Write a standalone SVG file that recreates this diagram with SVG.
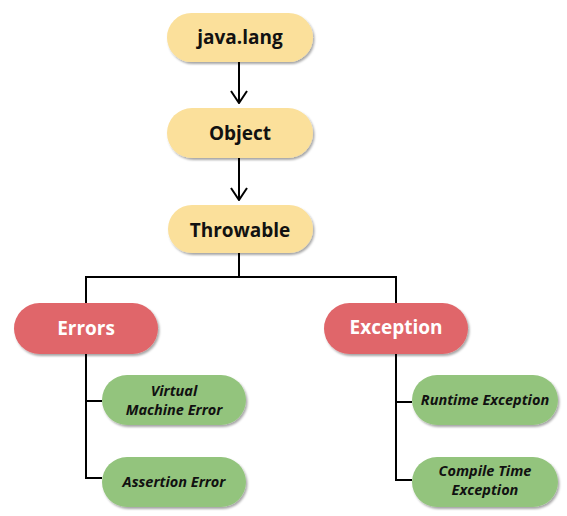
<svg xmlns="http://www.w3.org/2000/svg" width="567" height="516" viewBox="0 0 567 516">
<defs>
<filter id="sh" x="-10%" y="-20%" width="120%" height="150%">
<feDropShadow dx="1.5" dy="2" stdDeviation="1" flood-color="#000" flood-opacity="0.35"/>
</filter>
<marker id="arr" viewBox="0 0 14 18" refX="13" refY="9" markerWidth="14" markerHeight="18" markerUnits="userSpaceOnUse" orient="auto">
<path d="M1,1 L13,9 L1,17" fill="none" stroke="#000" stroke-width="2"/>
</marker>
</defs>
<style>
.y{fill:#fbe09b;filter:url(#sh)}
.r{fill:#e0666a;filter:url(#sh)}
.g{fill:#93c47d;filter:url(#sh)}
.t{font-family:"Open Sans","Noto Sans","Liberation Sans",sans-serif;font-weight:bold;text-anchor:middle}
.ty{font-size:19px;fill:#111}
.tr{font-size:19px;fill:#fff}
.tg{font-size:14.5px;font-style:italic;fill:#111}
.c{fill:none;stroke:#000;stroke-width:2}
</style>
<rect width="567" height="516" fill="#fff"/>
<g id="connectors">
<line class="c" x1="239" y1="62" x2="239" y2="103" marker-end="url(#arr)"/>
<line class="c" x1="239" y1="158" x2="239" y2="200" marker-end="url(#arr)"/>
<polyline class="c" points="239,253 239,277"/>
<polyline class="c" points="86,303 86,277 396,277 396,303"/>
<polyline class="c" points="86,354 86,478 102,478"/>
<line class="c" x1="86" y1="401" x2="102" y2="401"/>
<polyline class="c" points="396,354 396,480 412,480"/>
<line class="c" x1="396" y1="402" x2="412" y2="402"/>
</g>
<g id="java-lang">
<rect class="y" x="167" y="13" width="146" height="49" rx="24.5"/>
<text class="t ty" x="240" y="44">java.lang</text>
</g>
<g id="object">
<rect class="y" x="167" y="108" width="146" height="50" rx="25"/>
<text class="t ty" x="240" y="140">Object</text>
</g>
<g id="throwable">
<rect class="y" x="168" y="205" width="145" height="48" rx="24"/>
<text class="t ty" x="240" y="237">Throwable</text>
</g>
<g id="errors">
<rect class="r" x="14" y="303" width="144" height="51" rx="25.5"/>
<text class="t tr" x="86" y="335">Errors</text>
</g>
<g id="exception">
<rect class="r" x="324" y="303" width="144" height="51" rx="25.5"/>
<text class="t tr" x="396" y="334">Exception</text>
</g>
<g id="vme">
<rect class="g" x="102" y="375" width="144" height="50" rx="25"/>
<text class="t tg" x="174" y="396">Virtual</text>
<text class="t tg" x="174" y="415">Machine Error</text>
</g>
<g id="assertion">
<rect class="g" x="102" y="457" width="144" height="50" rx="25"/>
<text class="t tg" x="174" y="487">Assertion Error</text>
</g>
<g id="runtime">
<rect class="g" x="412" y="375" width="146" height="50" rx="25"/>
<text class="t tg" x="485" y="405">Runtime Exception</text>
</g>
<g id="compile">
<rect class="g" x="412" y="457" width="146" height="50" rx="25"/>
<text class="t tg" x="485" y="476">Compile Time</text>
<text class="t tg" x="485" y="495">Exception</text>
</g>
</svg>
